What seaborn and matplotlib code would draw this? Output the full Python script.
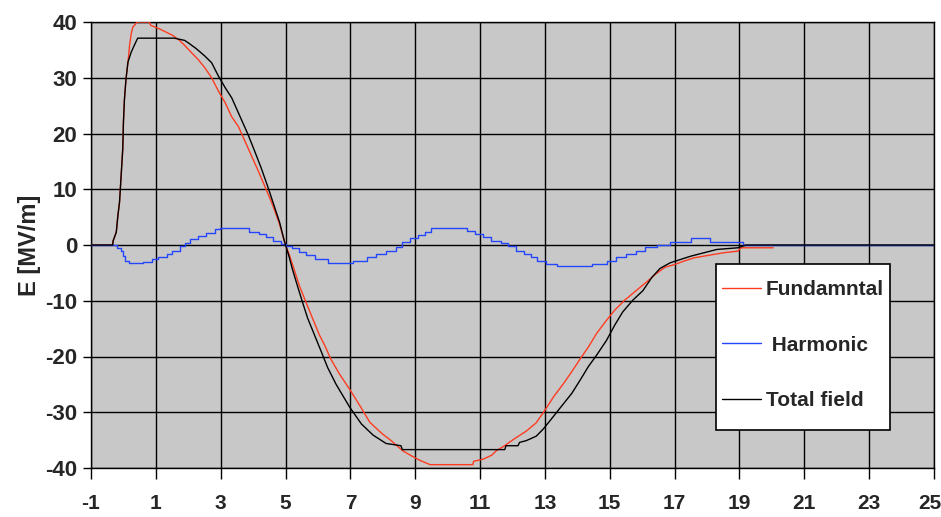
"""Fundamental, harmonic and total field E [MV/m] curves."""

import matplotlib
matplotlib.use("Agg")
import matplotlib.pyplot as plt
import matplotlib.transforms as mtransforms
import pandas as pd
import seaborn as sns
from matplotlib.patches import Rectangle

# Fundamental (red) - corners
fund_x = [-1, -0.33, -0.32, -0.22, -0.17, -0.12, -0.07, -0.02, 0.0, 0.03, 0.08, 0.14,
          0.19, 0.24, 0.29, 0.37, 0.42, 0.8, 0.84, 1.1, 1.31, 1.52, 1.73, 1.89, 2.1,
          2.3, 2.51, 2.72, 2.93, 3.14, 3.34, 3.55, 3.75, 3.95, 4.15, 4.4, 4.6, 4.8,
          4.95, 5.0, 5.125, 5.26, 5.42, 5.625, 5.83, 6.04, 6.2, 6.4, 6.67, 6.98, 7.29,
          7.6, 7.97, 8.26, 8.61, 8.97, 9.17, 9.46, 10.78, 10.8, 11.1, 11.36, 11.5,
          11.76, 11.9, 12.1, 12.42, 12.73, 12.97, 13.27, 13.58, 13.83, 14.09, 14.34,
          14.59, 14.9, 15.15, 15.46, 15.81, 16.12, 16.42, 16.7, 17.0, 17.28, 17.6,
          18.1, 18.5, 18.95, 19.05, 20.04]
fund_y = [0, 0, 0.7, 2.3, 5.3, 7.7, 12.5, 17.3, 22, 26, 29.8, 32.8,
          35.8, 37.9, 39.1, 39.6, 40.0, 40.0, 39.4, 38.8, 38.2, 37.6, 36.7, 35.8, 34.5,
          33.3, 31.8, 30.0, 27.6, 25.5, 23.0, 21.2, 18.6, 16.0, 13.4, 10.0, 7.2, 4.0,
          1.0, 0, -1.9, -4.3, -7.2, -10.2, -13.1, -16.1, -17.9, -20.5, -23.2, -25.9, -28.8,
          -31.8, -33.8, -35.1, -36.9, -38.1, -38.7, -39.4, -39.4, -38.8, -38.4, -37.7, -36.9,
          -36.0, -35.4, -34.6, -33.4, -31.9, -29.9, -27.2, -24.8, -22.7, -20.4, -18.3,
          -15.9, -13.5, -11.7, -9.9, -8.2, -6.7, -5.2, -4.0, -3.5, -2.9, -2.3,
          -1.8, -1.4, -1.1, -0.5, -0.5]

# Harmonic (blue) - wide stair steps
harm_x = [-1, -0.26, -0.2, -0.06, 0.0, 0.06, 0.16, 0.6, 0.88, 1.08, 1.33, 1.49, 1.74,
          1.89, 2.05, 2.3, 2.56, 2.81, 2.97, 3.88, 4.19, 4.39, 4.6, 4.85, 5.0, 5.2,
          5.42, 5.62, 5.9, 6.3, 7.08, 7.5, 7.8, 8.1, 8.4, 8.6, 8.85, 9.1, 9.3, 9.5,
          10.6, 10.85, 11.1, 11.35, 11.65, 11.85, 12.1, 12.36, 12.56, 12.77, 13.02,
          13.38, 14.44, 14.9, 15.2, 15.5, 15.8, 16.1, 16.45, 16.86, 17.5, 18.1, 19.1, 25]
harm_y = [0, 0, -0.5, -1.1, -2.0, -2.8, -3.2, -3.0, -2.6, -2.2, -1.7, -1.1, -0.2,
          0.4, 1.0, 1.6, 2.2, 2.8, 3.0, 2.4, 1.9, 1.4, 0.8, 0.2, -0.2, -0.6,
          -1.3, -1.8, -2.5, -3.2, -2.8, -2.2, -1.6, -1.0, -0.4, 0.5, 1.2, 1.8, 2.4, 3.0,
          2.5, 2.0, 1.4, 0.8, 0.3, -0.1, -1.0, -1.6, -2.2, -2.8, -3.4,
          -3.8, -3.4, -2.8, -2.2, -1.6, -1.0, -0.4, 0.0, 0.6, 1.2, 0.6, 0.0, 0.0]

# Total field (black)
tot_x = [-1, -0.33, -0.32, -0.22, -0.17, -0.12, -0.07, -0.02, 0.0, 0.03, 0.08, 0.14,
         0.24, 0.35, 0.44, 1.57, 1.89, 2.04, 2.25, 2.51, 2.72, 2.93, 3.14, 3.34, 3.6,
         3.83, 4.05, 4.25, 4.48, 4.65, 4.82, 4.95, 5.0, 5.1, 5.21, 5.36, 5.52, 5.68,
         5.89, 6.1, 6.3, 6.56, 6.98, 7.34, 7.7, 8.1, 8.56, 8.6, 11.76, 11.8, 12.17,
         12.22, 12.42, 12.73, 12.95, 13.2, 13.5, 13.83, 14.09, 14.34, 14.59, 14.9,
         15.15, 15.4, 15.71, 16.02, 16.3, 16.55, 16.86, 17.18, 17.5, 17.9, 18.3,
         18.95, 19.2, 25]
tot_y = [0, 0, 0.7, 2.3, 5.3, 7.7, 12.5, 17.3, 22, 26, 29.8, 32.8,
         34.6, 36.0, 37.1, 37.1, 36.7, 36.1, 35.2, 33.9, 32.7, 30.3, 28.2, 26.4, 23.0,
         20.0, 16.8, 13.8, 10.0, 7.0, 4.0, 1.0, 0, -1.9, -4.3, -7.2, -10.2, -13.1,
         -16.1, -19.1, -22.0, -25.0, -29.1, -32.1, -34.1, -35.6, -36.0, -36.7, -36.7, -36.0, -36.0,
         -35.4, -35.1, -34.3, -33.0, -31.2, -29.0, -26.6, -24.2, -21.8, -19.8, -17.1,
         -14.4, -12.0, -9.9, -8.2, -5.8, -4.2, -3.2, -2.6, -2.0, -1.4, -0.8,
         -0.5, 0, 0]

x_ticks = list(range(-1, 26, 2))
y_ticks = list(range(-40, 41, 10))

FUND_COLOR = "#FF3B1F"
HARM_COLOR = "#2446FF"
TOT_COLOR = "#000000"
FONT = ["Liberation Sans", "DejaVu Sans"]


def main():
    sns.set_theme(style="ticks")
    plt.rcParams["font.family"] = FONT
    plt.rcParams["axes.unicode_minus"] = False

    fig = plt.figure(figsize=(9.41, 5.17), dpi=100)
    ax = fig.add_axes([91 / 941, 49 / 517, 843 / 941, 446 / 517])
    ax.set_facecolor("#C8C8C8")

    series = [
        (fund_x, fund_y, "Fundamntal", FUND_COLOR, None),
        (harm_x, harm_y, " Harmonic", HARM_COLOR, "steps-post"),
        (tot_x, tot_y, "Total field", TOT_COLOR, None),
    ]
    for xs, ys, label, color, style in series:
        df = pd.DataFrame({"t": xs, "E": ys})
        kw = {"drawstyle": style} if style else {}
        sns.lineplot(data=df, x="t", y="E", ax=ax, color=color, linewidth=1.0,
                     estimator=None, sort=False, label=label, zorder=3, **kw)

    ax.set_xlim(-1, 25)
    ax.set_ylim(-40, 40)
    ax.set_xticks(x_ticks)
    ax.set_yticks(y_ticks)
    ax.grid(True, color="black", linewidth=1.0)
    ax.set_axisbelow(True)
    for spine in ax.spines.values():
        spine.set_color("black")
        spine.set_linewidth(1.0)
    ax.tick_params(axis="x", direction="out", length=8, width=1, pad=11,
                   labelsize=15, color="black")
    ax.tick_params(axis="y", direction="out", length=6, width=1, pad=4,
                   labelsize=16, color="black")
    for lbl in ax.get_xticklabels() + ax.get_yticklabels():
        lbl.set_fontweight("bold")
    # nudge the "25" label in so it stays inside the figure
    last = ax.get_xticklabels()[-1]
    last.set_transform(last.get_transform()
                       + mtransforms.ScaledTranslation(-4 / 100, 0, fig.dpi_scale_trans))

    ax.set_xlabel("")
    ax.set_ylabel("E [MV/m]", fontsize=17, fontweight="bold", labelpad=3)

    # legend box drawn separately so its padding can match the original
    ax.add_patch(Rectangle((0.7414, 0.0852), 0.2064, 0.3722, transform=ax.transAxes,
                           facecolor="white", edgecolor="black", linewidth=1.2,
                           zorder=4))
    leg = ax.legend(loc="upper left", bbox_to_anchor=(0.7485, 0.4215),
                    frameon=False, prop={"weight": "bold", "size": 15, "family": FONT},
                    handlelength=1.875, labelspacing=1.76, borderpad=0,
                    handletextpad=0.24, borderaxespad=0)
    leg.set_zorder(5)

    fig.savefig("out.png", dpi=100)
    plt.close(fig)


if __name__ == "__main__":
    main()
